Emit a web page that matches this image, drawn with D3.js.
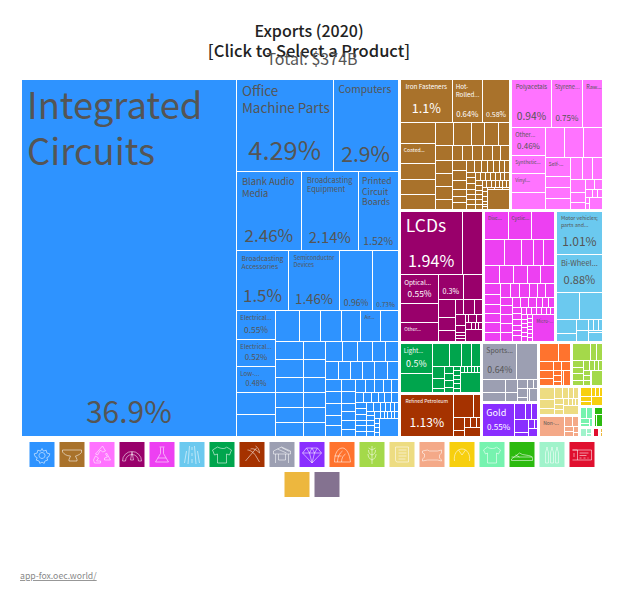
<!DOCTYPE html>
<html>
<head>
<meta charset="utf-8">
<script src="https://cdn.jsdelivr.net/npm/d3@7"></script>
<style>
  html, body { margin: 0; padding: 0; background: #fff; }
  svg { display: block; }
  text { font-family: "Noto Sans CJK SC", "Noto Sans", sans-serif; }
</style>
</head>
<body>
<svg id="chart" width="630" height="602"></svg>
<script>
// Export shares (percent of total) per product, in the order they are tiled.
const machineryValues = [36.9,4.29,2.9,2.46,2.14,1.52,1.5,1.46,.96,.73,.55,.52,.48,.43,.41,.36,.32,.32,.30,.30,.27,.24,.24,.20,.20,.20,.19,.19,.19,.17,.16,.16,.15,.15,.14,.14,.13,.115,.11,.11,.11,.11,.11,.10,.09,.09,.085,.08,.08,.08,.08,.06,.06,.06,.05,.055,.055,.05,.05,.04,.04,.04,.035,.035,.035,.035,.03,.033,.028,.028,.028,.028,.028,.03,.02,.02,.018,.015,.015,.02,.02,.02,.02,.02,.012,.012,.012,.012,.012,.012,.01,.01,.01,.165];
const machineryNames = ["Integrated\nCircuits","Office\nMachine Parts","Computers","Blank Audio\nMedia","Broadcasting\nEquipment","Printed\nCircuit\nBoards","Broadcasting\nAccessories","Semiconductor\nDevices","","","Electrical...","Electrical...","Low-...","","","","","","","Air..."];
const machineryPrinted = [0,1,2,3,4,5,6,7,8,9,10,11,12];

const metalValues = [1.1,.64,.58,.36,.34,.27,.26,.26,.205,.205,.15,.15,.13,.125,.117,.11,.11,.087,.078,.075,.073,.073,.066,.066,.065,.062,.06,.045,.045,.043,.045,.038,.035,.035,.031,.03,.028,.027,.027,.026,.025,.025,.024,.023,.02,.02,.02,.02,.018,.018,.02,.016,.016,.016,.016,.016,.016,.015,.015,.014,.014,.012,.012,.012,.012,.012,.012,.007,.007,.007,.007,.007,.007,.22];
const metalNames = ["Iron Fasteners","Hot-\nRolled...","","","Coated..."];
const metalPrinted = [0,1,2];

const plasticValues = [.94,.75,.47,.46,.305,.305,.29,.28,.28,.27,.24,.135,.135,.13,.133,.115,.108,.096,.074,.052,.045,.04,.03,.022,.022,.013,.013,.075];
const plasticNames = ["Polyacetals","Styrene...","Raw...","Other...","Synthetic...","Vinyl...","","","","","Self-..."];
const plasticPrinted = [0,1,3];

const instrumentValues = [1.94,.64,.55,.36,.35,.3,.24,.145,.1,.09,.064,.077,.062,.05,.034,.015,.015,.015,.011,.03,.023,.023,.012,.012,.012,.1];
const instrumentNames = ["LCDs","","Optical...","","Other..."];
const instrumentPrinted = [0,2,5];

const chemicalValues = [.33,.33,.32,.26,.22,.155,.14,.135,.13,.13,.12,.12,.12,.086,.08,.077,.073,.073,.073,.063,.063,.063,.056,.056,.056,.05,.052,.052,.05,.05,.04,.042,.036,.032,.032,.027,.027,.027,.025,.025,.023,.023,.02,.02,.02,.018,.018,.016,.015,.014,.014,.014,.014,.014,.014,.01,.01,.01,.01,.01,.01,.01,.28];
const chemicalNames = ["Disc...","Cyclic..."];
chemicalNames[chemicalValues.length - 1] = "Micro-...";
const chemicalPrinted = [];

const transportValues = [1.01,.88,.32,.31,.14,.08,.06,.06,.03,.025,.02,.02,.06];
const transportNames = ["Motor vehicles;\nparts and...","Bi-Wheel..."];
const transportPrinted = [0,1];

const textileValues = [.5,.31,.2,.145,.11,.11,.08,.06,.03,.035,.03,.03,.026,.016,.016,.016,.016,.016,.016,.012,.01,.01,.01,.01,.01,.21];
const textileNames = ["Light..."];
const textilePrinted = [0];

const mineralValues = [1.13,.23,.085,.07,.036,.03,.033,.02,.078];
const mineralNames = ["Refined Petroleum"];
const mineralPrinted = [0];

const miscValues = [.64,.39,.14,.1,.08,.055,.046,.025,.02,.046,.016,.013,.05];
const miscNames = ["Sports..."];
const miscPrinted = [0];

const preciousValues = [.55,.1,.055,.05,.09,.032,.026,.015,.04];
const preciousNames = ["Gold"];
const preciousPrinted = [0];

const foodValues = [.186,.118,.064,.056,.05,.041,.041,.021,.025,.018,.018,.056];
const vegetableValues = [.17,.054,.054,.043,.038,.038,.032,.03,.022,.022,.019,.018,.016,.016,.011,.092];
const paperValues = [.096,.072,.048,.047,.035,.03,.029,.029,.024,.024,.018,.014,.01,.012,.072];
const hideValues = [.276,.048,.036,.024,.022,.018,.012];
const hideNames = ["Non-..."];
const stoneValues = [.052,.029,.029,.022,.018,.016,.065];
const apparelValues = [.038,.038,.024,.018,.014];
const footwearValues = [.037,.016,.048];
const beverageValues = [.035,.015,.008];
const paperMoneyValues = [.036];
const oilValues = [.009,.009];
const artValues = [.0004];

const sectorColors = ["#2e93ff","#a9722b","#ff73ff","#99006b","#ed40f2","#6bc9ef","#00a54d","#a53200","#9c9fb2","#892eff","#ff732e","#a4d94a","#eddc82","#f4a988","#f7cf0f","#76f3af","#2cba0f","#a0f3cb","#e0102f","#edb73e","#847290"];
const sectorValues = [machineryValues,metalValues,plasticValues,instrumentValues,chemicalValues,transportValues,textileValues,mineralValues,miscValues,preciousValues,foodValues,vegetableValues,paperValues,hideValues,stoneValues,apparelValues,footwearValues,beverageValues,paperMoneyValues,oilValues,artValues];
const sectorNames = [machineryNames,metalNames,plasticNames,instrumentNames,chemicalNames,transportNames,textileNames,mineralNames,miscNames,preciousNames,[],[],[],hideNames,[],[],[],[],[],[],[]];
const sectorPrinted = [machineryPrinted,metalPrinted,plasticPrinted,instrumentPrinted,chemicalPrinted,transportPrinted,textilePrinted,mineralPrinted,miscPrinted,preciousPrinted,[],[],[],[],[],[],[],[],[],[],[]];

const titleLines = ["Exports (2020)", "[Click to Select a Product]"];
const subtitle = "Total: $374B";
const sourceNote = "app-fox.oec.world/";

// Outline glyphs for the sector legend, one per sector, on a 25 x 25 grid.
const sectorIcons = [
  "M12.5 6.5l1.4 2.6 2.8-.9.7 2.9 2.9.7-.9 2.8-2.1 1.1.9 2.4-2.8.9-.7 2.4-2.2-1.3-2.2 1.3-.7-2.4-2.8-.9.9-2.4-2.1-1.1-.9-2.8 2.9-.7.7-2.9 2.8.9zM12.5 10.5a3 3 0 1 0 .01 0",
  "M3 8h19v2.5c-2.5 3-5 3-6 3.5l1.5 3.5v1.5h-8v-1.5L11 14C7 14 4.5 12 3 10z",
  "M13 4l3 5-3 1-2-2-3 5-2-1zM17 11l4 7h-6v-2l3-1-2-3zM4 18l2-4 3 2-2 3h4v2H5z",
  "M3 19a9.5 9.5 0 0 1 19 0h-3a6.5 6.5 0 0 0-13 0zM12.5 10l1.5 8h-3z",
  "M10 5h5M11 5.5v6L6 20h13l-5-8.5v-6M8.5 16h8",
  "M10 4l-1.5 18M15 4l1.5 18M12.5 5v3M12.5 11v3M12.5 17v4M7 9l-2 12M18 9l2 12",
  "M8 5l-5 3 2 5 3-1v9h9v-9l3 1 2-5-5-3c-1 2-5 2-9 0z",
  "M6 19l11-13M16 4c2 1 4 4 4 7-3-3-6-5-9-4M8 8c3 0 7 3 9 7l3 5",
  "M4 9l8-4 9 4v3H4zM6 12v9M19 12v9M9 12v6h7v-6M8 7l9 4M12 5.5l8 4",
  "M7 6h11l4 5-9.5 10L3 11zM3 11h19M7 6l3 5 2.5 10M18 6l-3 5-2.5 10M10 11l2.5-5 2.5 5",
  "M5 20c0-8 3-14 8-14 4 0 7 6 8 14zM8 20c0-5 2-9 5-11M12 20c0-4 2-7 4-8M5 14h7",
  "M12.5 4v18M9 8c0 3 1 4 3.5 5 2.5-1 3.5-2 3.5-5M8.5 12c0 3 1.5 5 4 6 2.5-1 4-3 4-6M9 6l3.5 2 3.5-2",
  "M6 5h13v15H8c-2 0-2-2-2-3zM9 8h8M9 11h8M9 14h8M9 17h7",
  "M3 9l5-1 2 1h8l4-1v3l-2 2v3l2 2v1l-4-1H8l-5 1v-2l2-2v-3l-2-1z",
  "M5 19c-1-6 2-12 7.5-12S21 13 20 19M9 8l3.5 5L16 8",
  "M8 5l-4 3 2 4 2-1v10h9V11l2 1 2-4-4-3c-1 2-7 2-9 0z",
  "M2 17l8-6 3 1.5 6 1c2 .5 4 1 4 3v2H2zM2 15h21M6 13l4 2",
  "M6 21V11c0-2 1.500-3 1.500-6 0 3 1.500 4 1.500 6v10zM11 21V11c0-2 1.500-3 1.500-6 0 3 1.500 4 1.500 6v10zM16 21V11c0-2 1.500-3 1.500-6 0 3 1.500 4 1.500 6v10z",
  "M3 8h19v10H3M3 8h5v10M10 11h9M10 13.500h7M10 16h2M14 16h2M18 16h1M4.500 11v4"
];

const TILE_LEFT = 20, TILE_TOP = 78, TILE_WIDTH = 584, TILE_HEIGHT = 360;
const INK_DARK = "#555555", INK_LIGHT = "#ffffff";

const svg = d3.select("#chart");
const measure = document.createElement("canvas").getContext("2d");
measure.font = "100px 'Noto Sans CJK SC'";

// Width of a text line per unit of font size.
const unitWidth = s => measure.measureText(s).width / 100;

// Ink colour by perceived brightness of the tile it sits on.
function inkFor(color) {
  const c = d3.rgb(color);
  return (c.r * 299 + c.g * 587 + c.b * 114) / 1000 >= 128 ? INK_DARK : INK_LIGHT;
}

const hierarchyData = {
  children: sectorValues.map((values, s) => ({
    sector: s,
    children: values.map((value, i) => ({
      sector: s,
      value,
      name: sectorNames[s][i] || "",
      printed: sectorPrinted[s].includes(i)
    }))
  }))
};

const root = d3.hierarchy(hierarchyData).sum(d => d.value || 0);

d3.treemap()
  .tile(d3.treemapSquarify)
  .size([TILE_WIDTH, TILE_HEIGHT])
  .padding(1)
  .round(false)(root);

const tiles = svg.append("g")
  .attr("transform", `translate(${TILE_LEFT},${TILE_TOP})`)
  .selectAll("g")
  .data(root.leaves().filter(d => d.x1 > d.x0 && d.y1 > d.y0))
  .join("g")
  .attr("transform", d => `translate(${d.x0},${d.y0})`);

tiles.append("rect")
  .attr("width", d => d.x1 - d.x0)
  .attr("height", d => d.y1 - d.y0)
  .attr("shape-rendering", "crispEdges")
  .attr("fill", d => sectorColors[d.data.sector]);

// Product names: top-left, scaled to the tile; shortened names stay small.
tiles.filter(d => d.data.name).each(function (d) {
  const w = d.x1 - d.x0, h = d.y1 - d.y0;
  const lines = d.data.name.split("\n");
  const widest = d3.max(lines, unitWidth);
  const fill = lines.length > 2 ? 0.75 : w > 90 && w < 200 ? 0.92 : 0.82;
  let size = Math.min(fill * w / widest, 0.28 * h, 38);
  if (d.data.name.endsWith("...")) {
    size = Math.min(size, Math.max(5, 0.2 * Math.sqrt(w * h)));
  }
  const t = d3.select(this).append("text")
    .attr("font-size", size)
    .attr("fill", inkFor(sectorColors[d.data.sector]));
  lines.forEach((line, i) => {
    t.append("tspan")
      .attr("x", Math.max(3, Math.min(5, w * 0.09)))
      .attr("y", 3 + size * 1.0 + i * size * 1.26)
      .text(line);
  });
});

// Share of total: centred near the bottom edge of the tile, a little higher on short tiles.
tiles.filter(d => d.data.printed).append("text")
  .attr("x", d => (d.x1 - d.x0) / 2)
  .attr("text-anchor", "middle")
  .attr("font-size", d => {
    const w = d.x1 - d.x0, h = d.y1 - d.y0;
    return Math.min(0.76 * w / unitWidth(d.data.value + "%"), 0.3 * h, 30);
  })
  .attr("y", function (d) {
    const size = +d3.select(this).attr("font-size");
    const h = d.y1 - d.y0;
    return h - size * (h < 50 ? 0.72 : 0.45);
  })
  .attr("fill", d => inkFor(sectorColors[d.data.sector]))
  .text(d => d.data.value + "%");

// Heading block.
svg.selectAll("text.title")
  .data(titleLines)
  .join("text")
  .attr("class", "title")
  .attr("x", 309)
  .attr("y", (d, i) => 37 + i * 20)
  .attr("text-anchor", "middle")
  .attr("font-size", (d, i) => 16 + i * 0.5)
  .attr("font-weight", 500)
  .attr("fill", "#222222")
  .text(d => d);

svg.append("text")
  .attr("x", 312)
  .attr("y", 65)
  .attr("text-anchor", "middle")
  .attr("font-size", 16)
  .attr("fill", INK_DARK)
  .text(subtitle);

// Sector legend, wrapped onto centred rows.
const LEGEND_COLUMNS = 19, LEGEND_SWATCH = 25, LEGEND_STEP = 30, LEGEND_CENTRE = 312, LEGEND_TOP = 442;
const legendX = d3.scaleLinear()
  .domain([0, LEGEND_COLUMNS - 1])
  .range([LEGEND_CENTRE - (LEGEND_COLUMNS - 1) * LEGEND_STEP / 2 - LEGEND_SWATCH / 2,
          LEGEND_CENTRE + (LEGEND_COLUMNS - 1) * LEGEND_STEP / 2 - LEGEND_SWATCH / 2]);
const secondRow = sectorColors.length - LEGEND_COLUMNS;

const legend = svg.append("g").selectAll("g")
  .data(sectorColors)
  .join("g")
  .attr("transform", (c, i) => {
    const row = i < LEGEND_COLUMNS ? 0 : 1;
    const col = row === 0 ? i : (LEGEND_COLUMNS - secondRow) / 2 + (i - LEGEND_COLUMNS);
    return `translate(${legendX(col)},${LEGEND_TOP + row * LEGEND_STEP})`;
  });

legend.append("rect")
  .attr("width", LEGEND_SWATCH)
  .attr("height", LEGEND_SWATCH)
  .attr("fill", c => c);

legend.filter((c, i) => sectorIcons[i]).append("path")
  .attr("d", (c, i) => sectorIcons[i])
  .attr("fill", "none")
  .attr("stroke", "#ffffff")
  .attr("stroke-opacity", 0.55)
  .attr("stroke-width", 1);

svg.append("text")
  .attr("x", 20)
  .attr("y", 579)
  .attr("font-size", 8.7)
  .attr("fill", "#888888")
  .attr("text-decoration", "underline")
  .text(sourceNote);
</script>
</body>
</html>
